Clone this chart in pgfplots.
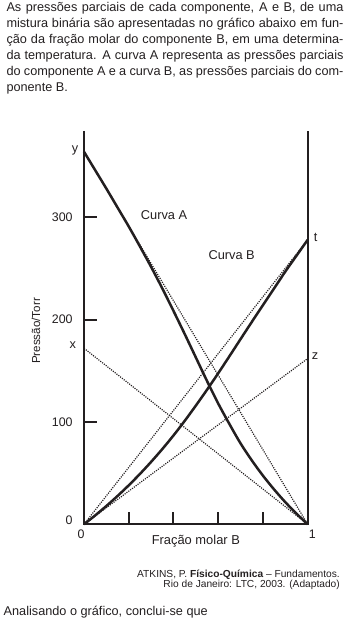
\documentclass[border=0pt]{standalone}
\usepackage{pgfplots}
\pgfplotsset{compat=1.18}
\usepackage{fontspec}
\setmainfont{Liberation Sans}
\definecolor{ink}{HTML}{231F20}
\begin{document}
\begin{tikzpicture}[x=1pt,y=1pt]
\useasboundingbox (0,0) rectangle (352,626);
% paragraph
\fontsize{12.7}{16}\selectfont
\begin{scope}[every node/.style={inner sep=0pt, text=ink}]
\node[anchor=base west] at (6.3,614) {\makebox[337pt][s]{As pressões parciais de cada componente, A e B, de uma}};
\node[anchor=base west] at (6.3,598) {\makebox[337pt][s]{mistura binária são apresentadas no gráfico abaixo em fun-}};
\node[anchor=base west] at (6.3,582) {\makebox[337pt][s]{ção da fração molar do componente B, em uma determina-}};
\node[anchor=base west] at (6.3,566) {\makebox[337pt][s]{da temperatura. A curva A representa as pressões parciais}};
\node[anchor=base west] at (6.3,550) {\makebox[337pt][s]{do componente A e a curva B, as pressões parciais do com-}};
\node[anchor=base west] at (6.3,534) {ponente B.};
% caption
\node[anchor=base east] at (340,48.4) {\fontsize{10.2}{11}\selectfont ATKINS, P. \textbf{Físico-Química} -- Fundamentos.};
\node[anchor=base east] at (340,38) {\fontsize{10.2}{11}\selectfont Rio de Janeiro: LTC, 2003. (Adaptado)};
\node[anchor=base west] at (3.5,10) {Analisando o gráfico, conclui-se que};
% letters
\node at (75,476) {y};
\node at (72.7,281) {x};
\node at (315.7,388.7) {t};
\node at (315,270) {z};
\node[rotate=90] at (36,295) {\fontsize{11.6}{13}\selectfont Pressão/Torr};
\end{scope}
\begin{axis}[
  at={(84pt,101.7pt)}, anchor=south west,
  scale only axis, width=223.7pt, height=393.3pt,
  xmin=0, xmax=1, ymin=0, ymax=384.3,
  clip=false,
  axis line style={draw=none},
  xtick={0.2,0.4,0.6,0.8}, xticklabels={},
  ytick={100,200,300},
  extra x ticks={0,1},
  extra x tick labels={{\hspace{-6pt}0},{\hspace{9pt}1}},
  extra x tick style={major tick length=0pt},
  extra y ticks={0},
  extra y tick style={major tick length=0pt, yticklabel style={yshift=4pt}},
  xtick pos=bottom, ytick pos=left,
  tick align=inside,
  major tick length=12.5pt,
  tick style={line width=2pt, ink},
  /pgf/number format/assume math mode=true,
  tick label style={font=\fontsize{12.4}{14}\selectfont, text=ink},
  yticklabel style={xshift=-7pt},
  xticklabel style={yshift=-1pt},
  xlabel={Fração molar B},
  xlabel style={font=\fontsize{12.9}{14}\selectfont, text=ink, at={(axis description cs:0.5,0)}, anchor=center, yshift=-16.5pt},
]
% dotted ideal lines
\addplot[ink, line width=1.2pt, dash pattern=on 1.1pt off 1.2pt] coordinates {(0,172) (1,0)};
\addplot[ink, line width=1.2pt, dash pattern=on 1.1pt off 1.2pt] coordinates {(0,0) (1,162)};
\addplot[ink, line width=1.2pt, dash pattern=on 1.1pt off 1.2pt] coordinates {(0,0) (1,278)};
\addplot[ink, line width=1.2pt, dash pattern=on 1.1pt off 1.2pt] coordinates {(0,364) (1,0)};
% curve A
\addplot[ink, line width=2.5pt, smooth, line join=round] coordinates {
(0.00,364) (0.05,346) (0.10,328) (0.15,309.5) (0.20,291) (0.25,271.5) (0.30,251.5)
(0.35,230.5) (0.40,208.5) (0.45,186) (0.50,163) (0.55,140) (0.60,118) (0.65,98)
(0.70,79) (0.75,62.5) (0.80,47.5) (0.85,34) (0.90,21.6) (0.95,10.4) (1.00,0)};
% curve B
\addplot[ink, line width=2.5pt, smooth, line join=round] coordinates {
(0.00,0) (0.05,8.7) (0.10,17.9) (0.15,27.7) (0.20,38.1) (0.25,49.2) (0.30,61)
(0.35,73.5) (0.40,86.8) (0.45,101) (0.50,116) (0.55,131.5) (0.60,147.6) (0.65,164.2)
(0.70,181) (0.75,197.7) (0.80,214.2) (0.85,230.5) (0.90,247) (0.95,262.5) (1.00,278)};
% axis frame (left, bottom, right)
\draw[ink, line width=2.4pt] (axis cs:0,384.3) -- (axis cs:0,0) -- (axis cs:1,0) -- (axis cs:1,384.3);
\node[text=ink, font=\fontsize{12.8}{14}\selectfont] at (axis cs:0.358,302) {Curva A};
\node[text=ink, font=\fontsize{12.8}{14}\selectfont] at (axis cs:0.66,263) {Curva B};
\end{axis}
\end{tikzpicture}
\end{document}
